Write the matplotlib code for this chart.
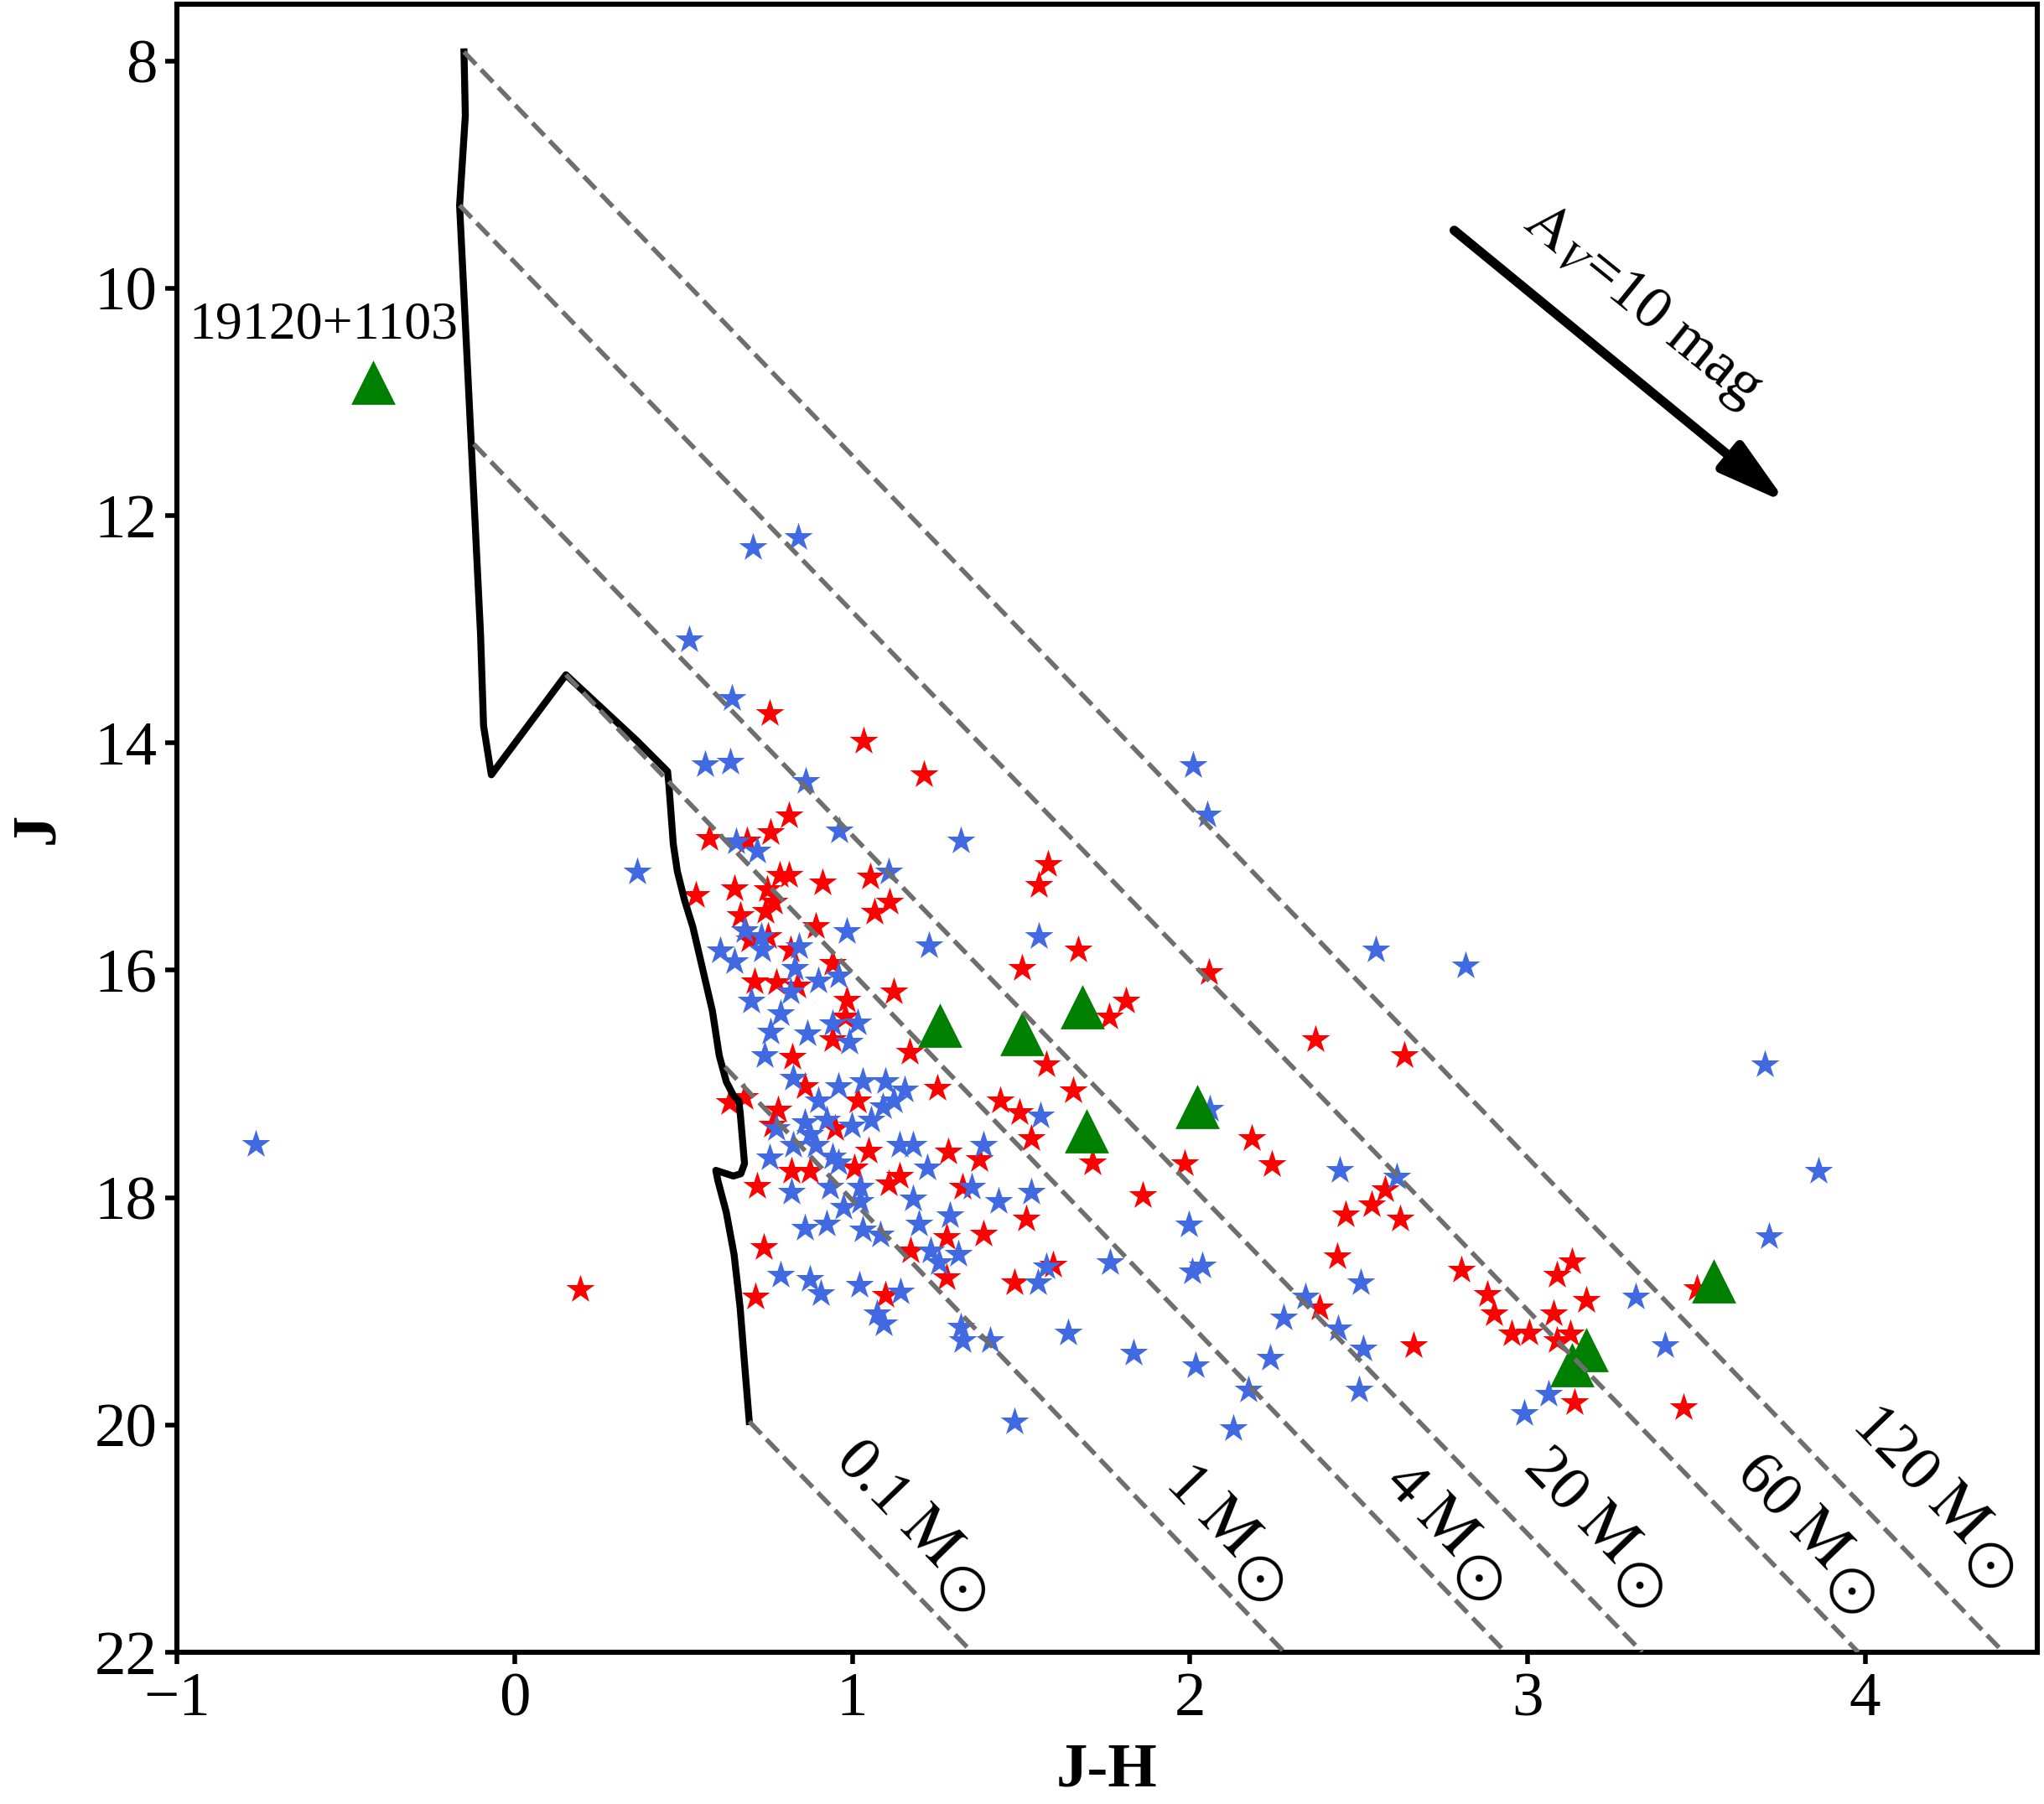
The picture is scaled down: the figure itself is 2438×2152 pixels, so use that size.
import numpy as np
import matplotlib as mpl
mpl.use('Agg')
import matplotlib.pyplot as plt

plt.rcParams['font.family'] = ['Liberation Serif', 'DejaVu Serif']
plt.rcParams['mathtext.fontset'] = 'stix'

# red stars (J-H, J)
red_jh = [0.755, 1.034, 1.212, 0.813, 0.758, 0.576, 0.689, 0.784, 0.813, 0.912, 1.053, 0.652,
          0.536, 0.747, 0.767, 0.743, 1.111, 1.065, 0.668, 0.892, 0.751, 0.697, 1.123, 0.983,
          0.710, 0.776, 0.838, 0.817, 0.941, 1.170, 0.823, 0.941, 0.978,
          1.251, 1.438, 0.635, 0.681, 0.780, 0.764, 1.016, 0.950, 0.859, 1.049, 1.284, 1.375,
          0.821, 0.875, 1.007, 0.718, 1.107, 1.140, 1.326, 1.388, 1.280, 1.173, 1.280, 0.739,
          0.714, 1.098,
          1.580, 1.553, 1.668, 1.502, 2.056, 1.810, 1.760, 2.371,
          1.574, 1.654, 1.496, 1.529, 1.711, 1.985, 2.184, 2.242, 1.860, 1.516, 1.595, 1.480,
          2.462, 2.539, 2.579, 2.437, 2.385,
          2.634, 2.624, 2.663, 2.804, 2.881, 3.088, 3.132, 2.900, 2.953, 3.005, 3.078, 3.175,
          3.127, 3.088, 3.140, 3.461, 3.503, 0.193]
red_j = [13.74, 13.98, 14.28, 14.64, 14.79, 14.84, 14.86, 15.16, 15.16, 15.23, 15.18, 15.28,
         15.34, 15.29, 15.40, 15.48, 15.40, 15.49, 15.52, 15.61, 15.70, 15.73, 16.19, 16.26,
         16.10, 16.11, 16.14, 15.82, 15.94, 16.72, 16.76, 16.61, 16.41,
         17.04, 17.15, 17.16, 17.12, 17.23, 17.36, 17.15, 17.39, 17.02, 17.59, 17.60, 17.66,
         17.77, 17.77, 17.74, 17.90, 17.88, 17.81, 17.91, 18.32, 18.35, 18.47, 18.70, 18.44,
         18.87, 18.86,
         15.07, 15.25, 15.82, 15.98, 16.02, 16.27, 16.41, 16.61,
         16.83, 17.06, 17.25, 17.48, 17.69, 17.70, 17.48, 17.71, 17.98, 18.19, 18.59, 18.75,
         18.15, 18.06, 17.93, 18.52, 18.97,
         16.75, 18.19, 19.30, 18.64, 18.85, 18.68, 18.56, 19.02, 19.20, 19.19, 19.02, 18.90,
         19.20, 19.26, 19.80, 19.85, 18.80, 18.81]

# blue stars (J-H, J)
blue_jh = [0.706, 0.840, 0.517, 0.643,
           0.565, 0.639, 0.863, 0.962, 1.322, 0.362, 0.656, 0.718, 1.107, 0.983, 1.227, 0.681,
           0.730, 0.610, 0.652, 0.734, 0.842, 0.830, 0.900, 0.958, 0.701, 0.788, 0.817, 0.759,
           0.867, 0.941, 1.016, 0.991, 0.741,
           0.825, 0.958, 1.032, 1.098, 1.156, 1.090, 1.057, 0.999, 0.900, 0.859, 0.776, 0.825,
           0.892, 0.941, 0.755, 1.140, 1.181, 1.223, 1.388, 1.355, 1.433, 0.821, 0.933, 1.024,
           0.974, 1.181, 1.198, 1.289, 0.859, 0.925, 1.032, 1.082, 1.231, 1.314, 1.256, 0.788,
           0.875, 0.908, 1.020, 1.144, 1.074, 1.094, 1.322, 1.326, 1.409,
           1.123, 0.875, 0.925, 0.958, 1.024,
           2.010, 2.051, 1.553, 2.550,
           1.558, 1.529, 1.996, 1.574, 1.549, 1.764, 2.008, 2.037, 2.443, 2.505, 2.343, 2.277,
           2.438, 2.513, 1.640, 1.833, 2.017, 2.238, 2.174, 2.500, 2.058,
           2.817, 3.702, 3.861, 3.716, 2.614, 3.320, 3.407, 3.063, 2.991,
           -0.768, 1.481, 2.128]
blue_j = [12.28, 12.19, 13.09, 13.61,
          14.19, 14.17, 14.34, 14.77, 14.86, 15.13, 14.87, 14.95, 15.13, 15.66, 15.78, 15.65,
          15.70, 15.83, 15.92, 15.82, 15.79, 15.98, 16.09, 16.05, 16.27, 16.38, 16.19, 16.54,
          16.56, 16.47, 16.46, 16.63, 16.75,
          16.95, 17.02, 16.98, 16.98, 17.05, 17.20, 17.32, 17.37, 17.15, 17.34, 17.39, 17.54,
          17.54, 17.64, 17.65, 17.54, 17.54, 17.74, 17.54, 17.91, 18.03, 17.95, 17.91, 17.91,
          18.08, 18.01, 18.23, 18.16, 18.27, 18.23, 18.28, 18.33, 18.47, 18.50, 18.57, 18.68,
          18.72, 18.84, 18.77, 18.83, 19.02, 19.11, 19.14, 19.26, 19.26,
          17.15, 17.44, 17.32, 17.69, 18.03,
          14.20, 14.63, 15.70, 15.82,
          17.28, 17.95, 18.24, 18.61, 18.75, 18.57, 18.65, 18.60, 17.76, 18.75, 18.87, 19.06,
          19.15, 19.33, 19.19, 19.37, 19.48, 19.41, 19.69, 19.69, 17.22,
          15.96, 16.83, 17.77, 18.34, 17.82, 18.87, 19.30, 19.73, 19.90,
          17.53, 19.97, 20.03]

# green triangles
tri_jh = [-0.418, 1.260, 1.504, 1.682, 1.694, 2.021, 3.552, 3.175, 3.132]
tri_j = [10.83, 16.48, 16.56, 16.32, 17.41, 17.20, 18.73, 19.34, 19.47]

# isochrone (black line)
iso_jh = [-0.150, -0.146, -0.163, -0.136, -0.101, -0.092, -0.069, 0.152, 0.362, 0.453, 0.457,
          0.470, 0.482, 0.503, 0.528, 0.557, 0.586, 0.606, 0.627, 0.648, 0.664, 0.668, 0.681,
          0.670, 0.648, 0.596, 0.602, 0.627, 0.650, 0.668, 0.681, 0.695]
iso_j = [7.92, 8.48, 9.27, 10.91, 13.04, 13.85, 14.28, 13.40, 13.98, 14.25, 14.37,
         14.89, 15.13, 15.38, 15.62, 15.99, 16.36, 16.75, 16.98, 17.10, 17.15, 17.25, 17.70,
         17.79, 17.81, 17.76, 17.85, 18.13, 18.50, 18.97, 19.46, 19.97]

# reddening tracks
masses = ['0.1', '1', '4', '20', '60', '120']
track_jh0 = [0.695, 0.623, 0.152, -0.121, -0.163, -0.150]
track_j0 = [19.97, 16.85, 13.40, 11.37, 9.27, 7.92]
track_jh1 = [1.355, 2.28, 2.935, 3.34, 3.98, 4.41]
track_j1 = [22, 22, 22, 22, 22, 22]
label_jh = [1.181, 2.112, 2.759, 3.204, 3.832, 4.209]
label_j = [20.89, 20.95, 20.94, 20.91, 20.96, 20.63]

fig = plt.figure(figsize=(12.19, 10.76), dpi=200)
ax = fig.add_axes([0.0866, 0.0841, 0.9101, 0.9136])

ax.scatter(red_jh, red_j, marker='*', s=165, color='#ff0000', linewidths=0, zorder=3)
ax.scatter(blue_jh, blue_j, marker='*', s=165, color='#4169e1', linewidths=0, zorder=3)
ax.plot(iso_jh, iso_j, color='black', lw=3, zorder=4)
ax.scatter(tri_jh, tri_j, marker='^', s=19**2, color='green', linewidths=0, zorder=5)

for i, m in enumerate(masses):
    ax.plot([track_jh0[i], track_jh1[i]], [track_j0[i], track_j1[i]],
            ls='--', color='#6e6e6e', lw=2, zorder=6)
    ax.text(label_jh[i], label_j[i], m + r' $\mathrm{M}_{\,\bigodot}$', fontsize=27,
            rotation=-46, rotation_mode='anchor', ha='center', va='center')

ax.text(-0.565, 10.33, '19120+1103', fontsize=23, ha='center', va='center')

ax.annotate('', xy=(3.768, 11.89), xytext=(2.783, 9.49),
            arrowprops=dict(arrowstyle='-|>,head_length=0.8,head_width=0.22', color='black',
                            lw=4, mutation_scale=30, shrinkA=0, shrinkB=0))
ax.text(3.34, 10.15, r'$\mathrm{A}_V$=10 mag', fontsize=26, rotation=-39,
        rotation_mode='anchor', ha='center', va='center')

ax.set_xlim(-1, 4.51)
ax.set_ylim(22, 7.5)
ax.set_xticks([-1, 0, 1, 2, 3, 4])
ax.set_yticks([8, 10, 12, 14, 16, 18, 20, 22])
ax.tick_params(labelsize=27, width=2, length=5)
for s in ax.spines.values():
    s.set_linewidth(2.2)
ax.set_xlabel('J-H', fontsize=27, fontweight='bold', labelpad=6)
ax.set_ylabel('J', fontsize=27, fontweight='bold', labelpad=12)

plt.savefig('out.png')
plt.close()
